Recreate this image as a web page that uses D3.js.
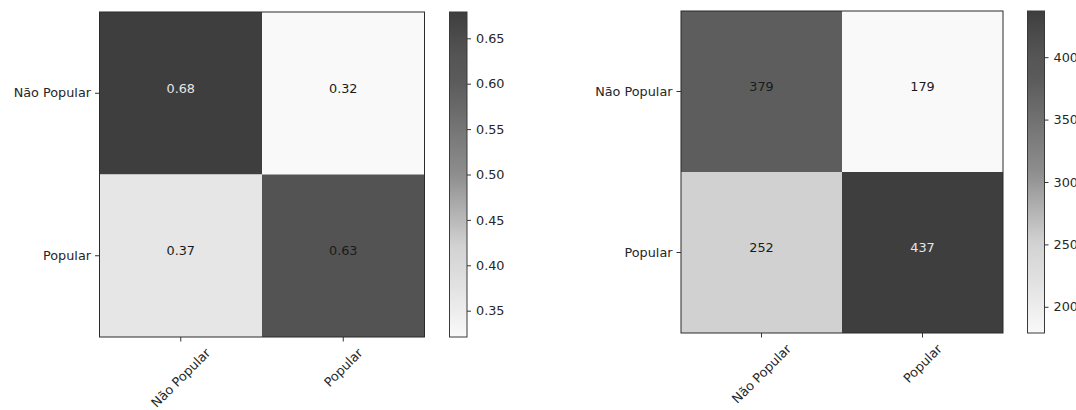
<!DOCTYPE html>
<html>
<head>
<meta charset="utf-8">
<script src="https://cdn.jsdelivr.net/npm/d3@7"></script>
<style>
  html, body { margin: 0; padding: 0; background: #ffffff; }
  svg { display: block; font-family: "DejaVu Sans", sans-serif; }
</style>
</head>
<body>
<svg id="chart" width="1076" height="410"></svg>
<script>
// ---- data ----
const categories = ["Não Popular", "Popular"];
const normalizedValues = [[0.679, 0.321], [0.366, 0.634]];
const countValues = [[379, 179], [252, 437]];
const normalizedTicks = [0.35, 0.40, 0.45, 0.50, 0.55, 0.60, 0.65];
const countTicks = [200, 250, 300, 350, 400];

// ---- style ----
const grayStopsT = [0, 0.13, 0.28, 0.5, 0.78, 0.87, 1];
const grayStopsV = [249, 229, 210, 142, 92, 84, 62];
const grayRamp = d3.scaleLinear().domain(grayStopsT).range(grayStopsV).clamp(true);
const textColor = "#262626";
const labelSize = 12.8;
const numSize = 12.8;

const panels = [
  { values: normalizedValues, ticks: normalizedTicks, fmt: d3.format(".2f"), tickFmt: d3.format(".2f"),
    x0: 99.5, y0: 12, size: 325, cbX: 449.5, cbW: 17.5 },
  { values: countValues, ticks: countTicks, fmt: d3.format("d"), tickFmt: d3.format("d"),
    x0: 681, y0: 11, size: 322, cbX: 1027.5, cbW: 17 }
];

const svg = d3.select("#chart");
const defs = svg.append("defs");

panels.forEach((p, pi) => {
  const flat = p.values.flat();
  const vmin = d3.min(flat), vmax = d3.max(flat);
  const tScale = d3.scaleLinear().domain([vmin, vmax]).range([0, 1]);
  const color = v => { const g = Math.round(grayRamp(tScale(v))); return `rgb(${g},${g},${g})`; };

  const x = d3.scaleBand().domain(categories).range([p.x0, p.x0 + p.size]).padding(0);
  const y = d3.scaleBand().domain(categories).range([p.y0, p.y0 + p.size]).padding(0);

  const g = svg.append("g");
  const cells = [];
  p.values.forEach((row, ri) => row.forEach((v, ci) => cells.push({ r: categories[ri], c: categories[ci], v })));

  g.selectAll("rect.cell").data(cells).join("rect")
    .attr("class", "cell")
    .attr("x", d => x(d.c)).attr("y", d => y(d.r))
    .attr("width", x.bandwidth()).attr("height", y.bandwidth())
    .attr("fill", d => color(d.v));

  g.selectAll("text.val").data(cells).join("text")
    .attr("class", "val")
    .attr("x", d => x(d.c) + x.bandwidth() / 2)
    .attr("y", d => y(d.r) + y.bandwidth() / 2 - 5)
    .attr("text-anchor", "middle")
    .attr("dominant-baseline", "central")
    .attr("font-size", numSize)
    .attr("fill", d => tScale(d.v) > 0.9 ? "#e6e6e6" : "#1a1a1a")
    .text(d => p.fmt(d.v));

  // frame
  g.append("rect")
    .attr("x", p.x0).attr("y", p.y0).attr("width", p.size).attr("height", p.size)
    .attr("fill", "none").attr("stroke", "#2b2b2b").attr("stroke-width", 1);

  // y axis
  const ya = g.append("g").attr("transform", `translate(${p.x0},0)`)
    .call(d3.axisLeft(y).tickSize(4.5).tickPadding(4));
  ya.select(".domain").remove();
  ya.selectAll(".tick line").attr("stroke", "#333");
  ya.selectAll(".tick text").attr("font-size", labelSize).attr("fill", textColor)
    .attr("font-family", "DejaVu Sans, sans-serif");

  // x axis with rotated labels
  const bottom = p.y0 + p.size;
  const xa = g.append("g").attr("transform", `translate(0,${bottom})`)
    .call(d3.axisBottom(x).tickSize(4.5));
  xa.select(".domain").remove();
  xa.selectAll(".tick line").attr("stroke", "#333");
  xa.selectAll(".tick text").each(function () {
    const t = d3.select(this);
    t.attr("font-size", labelSize).attr("fill", textColor).attr("font-family", "DejaVu Sans, sans-serif")
      .attr("text-anchor", "middle").attr("dominant-baseline", "central").attr("y", 0).attr("dy", null);
    const w = this.getComputedTextLength();
    const h = labelSize * 0.78;
    const half = (w + h) * Math.SQRT1_2 / 2;
    t.attr("transform", `translate(0,${10 + half}) rotate(-45)`);
  });

  // colorbar
  const gradId = "grad" + pi;
  const grad = defs.append("linearGradient").attr("id", gradId)
    .attr("x1", 0).attr("y1", 1).attr("x2", 0).attr("y2", 0);
  d3.range(0, 1.0001, 0.02).forEach(t => {
    const v = vmin + t * (vmax - vmin);
    grad.append("stop").attr("offset", t).attr("stop-color", color(v));
  });
  const cb = d3.scaleLinear().domain([vmin, vmax]).range([bottom, p.y0]);
  g.append("rect")
    .attr("x", p.cbX).attr("y", p.y0).attr("width", p.cbW).attr("height", p.size)
    .attr("fill", `url(#${gradId})`).attr("stroke", "#3a3a3a").attr("stroke-width", 1);
  const ca = g.append("g").attr("transform", `translate(${p.cbX + p.cbW},0)`)
    .call(d3.axisRight(cb).tickValues(p.ticks).tickFormat(p.tickFmt).tickSize(4).tickPadding(5));
  ca.select(".domain").remove();
  ca.selectAll(".tick line").attr("stroke", "#333");
  ca.selectAll(".tick text").attr("font-size", numSize).attr("fill", textColor)
    .attr("font-family", "DejaVu Sans, sans-serif");
});
</script>
</body>
</html>
